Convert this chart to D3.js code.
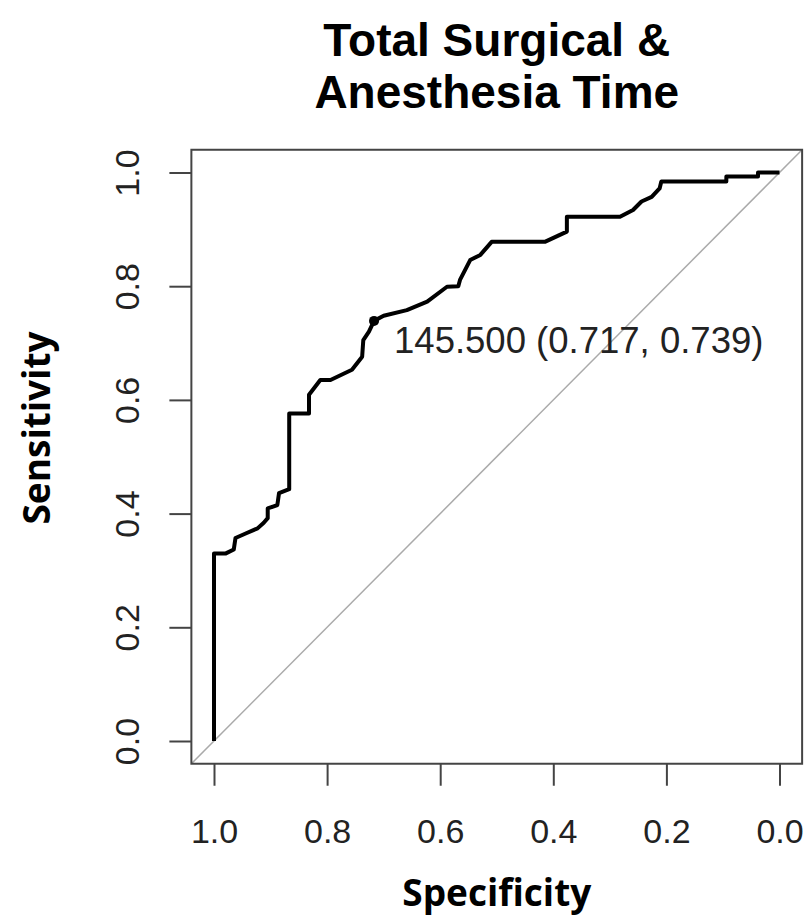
<!DOCTYPE html>
<html>
<head>
<meta charset="utf-8">
<script src="https://cdn.jsdelivr.net/npm/d3@7"></script>
<style>
  body { margin: 0; background: #fff; }
  svg { display: block; }
</style>
</head>
<body>
<script>
// ROC curve points (specificity reversed on x)
const specificity = [1.000, 1.000, 0.979, 0.965, 0.962, 0.944, 0.923, 0.912, 0.905, 0.905,
  0.888, 0.885, 0.867, 0.867, 0.832, 0.832, 0.812, 0.794, 0.756, 0.738,
  0.736, 0.726, 0.717, 0.700, 0.659, 0.623, 0.588, 0.568, 0.565, 0.547,
  0.529, 0.509, 0.415, 0.376, 0.376, 0.282, 0.259, 0.244, 0.226, 0.212,
  0.209, 0.094, 0.094, 0.038, 0.038, 0.000];
const sensitivity = [0.000, 0.330, 0.330, 0.337, 0.357, 0.365, 0.374, 0.384, 0.392, 0.409,
  0.415, 0.436, 0.443, 0.576, 0.576, 0.609, 0.635, 0.635, 0.653, 0.676,
  0.705, 0.720, 0.739, 0.748, 0.758, 0.773, 0.799, 0.800, 0.811, 0.846,
  0.855, 0.878, 0.878, 0.896, 0.922, 0.922, 0.934, 0.949, 0.957, 0.972,
  0.984, 0.984, 0.993, 0.993, 1.000, 1.000];

// best threshold
const threshold = [{cut: 145.5, spec: 0.717, sens: 0.739}];

const ticks = [0, 0.2, 0.4, 0.6, 0.8, 1.0];
const titleLines = ['Total Surgical &', 'Anesthesia Time'];

const width = 807;
const height = 920;

const x = d3.scaleLinear().domain([1, 0]).range([214, 779.5]);
const y = d3.scaleLinear().domain([0, 1]).range([741, 172.5]);

const svg = d3.select('body')
  .append('svg')
  .attr('width', width)
  .attr('height', height);

// plot box (R usr extends 4% each side)
const x0 = x(1.04), x1 = x(-0.04), y0 = y(-0.04), y1 = y(1.04);

svg.append('defs').append('clipPath')
  .attr('id', 'clip')
  .append('rect')
  .attr('x', x0).attr('y', y1)
  .attr('width', x1 - x0).attr('height', y0 - y1);

// chance diagonal
svg.append('line')
  .attr('clip-path', 'url(#clip)')
  .attr('x1', x(1.04)).attr('y1', y(-0.04))
  .attr('x2', x(-0.04)).attr('y2', y(1.04))
  .style('stroke', '#aaaaaa')
  .style('stroke-width', 1.5);

const points = specificity.map((s, i) => [s, sensitivity[i]]);

svg.append('path')
  .datum(points)
  .attr('d', d3.line().x(d => x(d[0])).y(d => y(d[1])))
  .style('fill', 'none')
  .style('stroke', '#000')
  .style('stroke-width', 4)
  .style('stroke-linejoin', 'round');

svg.append('rect')
  .attr('x', x0).attr('y', y1)
  .attr('width', x1 - x0).attr('height', y0 - y1)
  .style('fill', 'none')
  .style('stroke', '#444')
  .style('stroke-width', 2);

// axes
const xAxis = svg.append('g')
  .attr('transform', `translate(0,${y0})`)
  .call(d3.axisBottom(x).tickValues(ticks).tickSize(22).tickPadding(57).tickFormat(d3.format('.1f')));

const yAxis = svg.append('g')
  .attr('transform', `translate(${x0},0)`)
  .call(d3.axisLeft(y).tickValues(ticks).tickSize(22).tickFormat(d3.format('.1f')));

[xAxis, yAxis].forEach(g => {
  g.select('.domain').remove();
  g.selectAll('.tick line').style('stroke', '#444').style('stroke-width', 2);
  g.selectAll('.tick text')
    .style('font-family', '"Liberation Sans", Arial, sans-serif')
    .style('font-size', '34px')
    .style('fill', '#222');
});

xAxis.selectAll('.tick text').attr('dy', 0);

yAxis.selectAll('.tick text')
  .attr('x', null).attr('dy', null)
  .attr('text-anchor', 'middle')
  .attr('transform', 'translate(-52,0) rotate(-90)');

// threshold point and label
svg.selectAll('.thr')
  .data(threshold)
  .enter()
  .append('circle')
  .attr('cx', d => x(d.spec))
  .attr('cy', d => y(d.sens))
  .attr('r', 5)
  .style('fill', '#000');

svg.selectAll('.thr-label')
  .data(threshold)
  .enter()
  .append('text')
  .attr('x', d => x(d.spec) + 20)
  .attr('y', d => y(d.sens) + 32)
  .style('font-family', '"Liberation Sans", Arial, sans-serif')
  .style('font-size', '36.5px')
  .style('fill', '#222')
  .text(d => `${d3.format('.3f')(d.cut)} (${d3.format('.3f')(d.spec)}, ${d3.format('.3f')(d.sens)})`);

// titles
svg.append('text')
  .attr('x', (x0 + x1) / 2)
  .attr('text-anchor', 'middle')
  .style('font-family', '"Liberation Sans", Arial, sans-serif')
  .style('font-weight', 'bold')
  .style('font-size', '46px')
  .selectAll('tspan')
  .data(titleLines)
  .enter()
  .append('tspan')
  .attr('x', (x0 + x1) / 2)
  .attr('y', (d, i) => 56 + i * 52)
  .text(d => d);

svg.append('text')
  .attr('x', (x0 + x1) / 2)
  .attr('y', 906)
  .attr('text-anchor', 'middle')
  .style('font-family', '"Open Sans", sans-serif')
  .style('font-weight', 'bold')
  .style('font-size', '37px')
  .text('Specificity');

svg.append('text')
  .attr('transform', 'translate(50,428) rotate(-90)')
  .attr('text-anchor', 'middle')
  .style('font-family', '"Open Sans", sans-serif')
  .style('font-weight', 'bold')
  .style('font-size', '37px')
  .text('Sensitivity');
</script>
</body>
</html>
